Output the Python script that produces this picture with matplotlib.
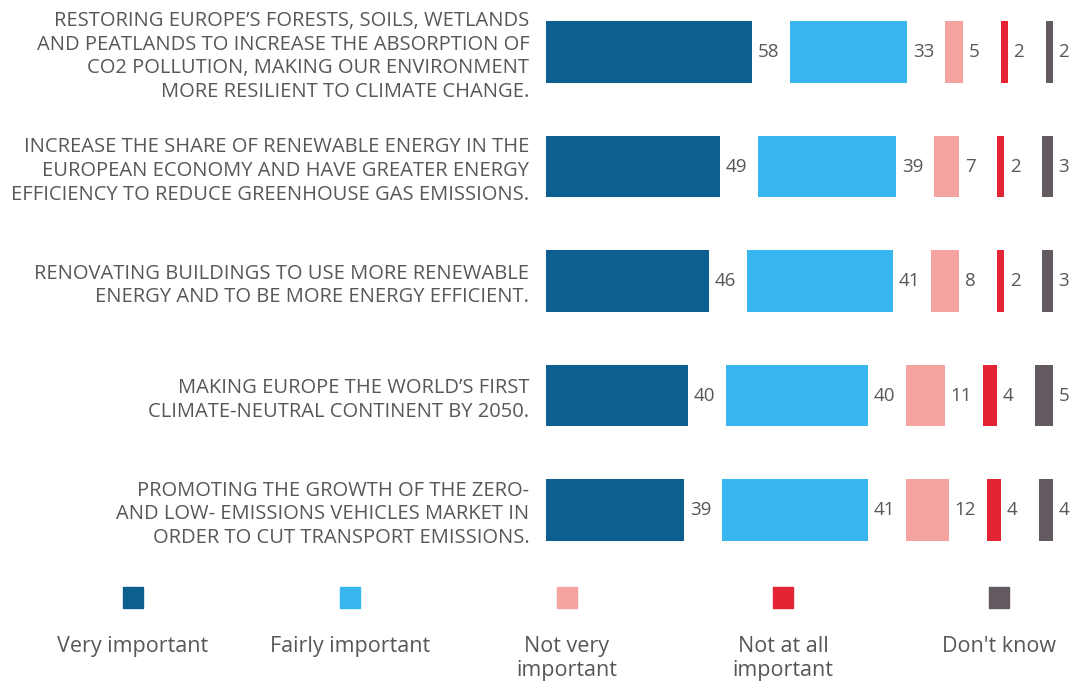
import matplotlib
matplotlib.use("Agg")
import matplotlib.pyplot as plt
import numpy as np
from matplotlib.patches import Rectangle

plt.rcParams['font.family'] = ['Open Sans', 'DejaVu Sans']

categories = [
    "RESTORING EUROPE\u2019S FORESTS, SOILS, WETLANDS\nAND PEATLANDS TO INCREASE THE ABSORPTION OF\nCO2 POLLUTION, MAKING OUR ENVIRONMENT\nMORE RESILIENT TO CLIMATE CHANGE.",
    "INCREASE THE SHARE OF RENEWABLE ENERGY IN THE\nEUROPEAN ECONOMY AND HAVE GREATER ENERGY\nEFFICIENCY TO REDUCE GREENHOUSE GAS EMISSIONS.",
    "RENOVATING BUILDINGS TO USE MORE RENEWABLE\nENERGY AND TO BE MORE ENERGY EFFICIENT.",
    "MAKING EUROPE THE WORLD\u2019S FIRST\nCLIMATE-NEUTRAL CONTINENT BY 2050.",
    "PROMOTING THE GROWTH OF THE ZERO-\nAND LOW- EMISSIONS VEHICLES MARKET IN\nORDER TO CUT TRANSPORT EMISSIONS.",
]
series_names = ["Very important", "Fairly important", "Not very\nimportant",
                "Not at all\nimportant", "Don't know"]
very_important = [58, 49, 46, 40, 39]
fairly_important = [33, 39, 41, 40, 41]
not_very_important = [5, 7, 8, 11, 12]
not_at_all_important = [2, 2, 2, 4, 4]
dont_know = [2, 3, 3, 5, 4]

colors = ["#0C5F8F", "#38B6EF", "#F4A3A1", "#E32434", "#625A60"]
text_color = "#5A5558"

series = [very_important, fairly_important, not_very_important,
          not_at_all_important, dont_know]

W, H = 1070, 682
fig = plt.figure(figsize=(W / 100, H / 100), dpi=100)

# main axes: pixel x 546..1070, y 0..560 (from top)
ax = fig.add_axes([546 / W, 1 - 560 / H, (W - 546) / W, 560 / H])
px_per_unit = 3.55
gap = 10.7
ax.set_xlim(0, (W - 546) / px_per_unit)
row_sp = 114.5
ax.set_ylim(4 + (560 - 510) / row_sp, -52 / row_sp)
y = np.arange(len(categories))

left = np.zeros(len(categories))
for k, (vals, col) in enumerate(zip(series, colors)):
    vals = np.array(vals, dtype=float)
    ax.barh(y, vals, left=left, height=0.54, color=col, edgecolor='none')
    for yi, l, v in zip(y, left, vals):
        ax.text(l + v + 1.6, yi, f"{int(v)}", va='center', ha='left',
                fontsize=13.5, color=text_color)
    left = left + vals + gap

ax.set_yticks(y)
ax.set_yticklabels(categories, fontsize=14.5, color=text_color, linespacing=1.25)
ax.tick_params(axis='y', length=0, pad=12)
ax.set_xticks([])
for s in ax.spines.values():
    s.set_visible(False)

# legend axes
lax = fig.add_axes([0, 0, 1, 1 - 570 / H])
lax.set_xlim(0, W)
lax.set_ylim(H - 570, 0)  # pixel coords from y=570 down
lax.axis('off')
centers = [133, 350, 567, 783, 999]
for cx, col, name in zip(centers, colors, series_names):
    lax.add_patch(Rectangle((cx - 10, 587 - 570), 20, 21, color=col))
    lax.text(cx, 636 - 570, name, ha='center', va='top', fontsize=15.5,
             color=text_color, linespacing=1.2)

fig.savefig("out.png", dpi=100)
